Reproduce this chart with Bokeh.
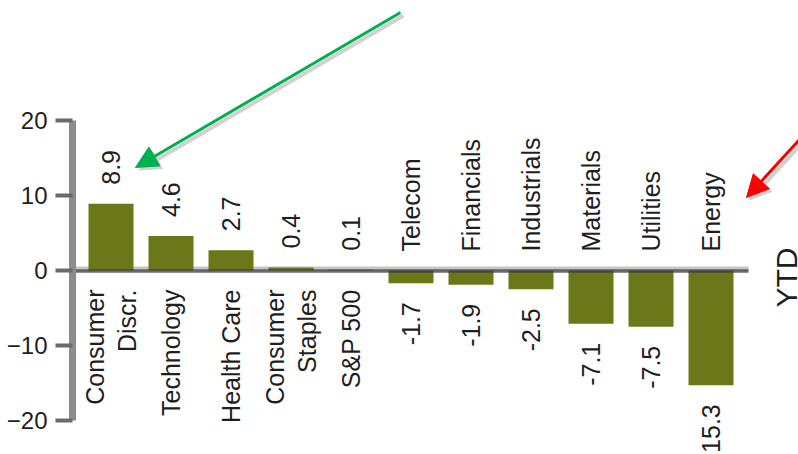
import math
import pandas as pd
from bokeh.plotting import figure
from bokeh.models import Range1d, FixedTicker, ColumnDataSource, Arrow, NormalHead, Label
from bokeh.core.properties import value
from bokeh.embed import file_html
from bokeh.resources import INLINE

# ---------------- data ----------------
categories = ["Consumer\nDiscr.", "Technology", "Health Care", "Consumer\nStaples", "S&P 500",
              "Telecom", "Financials", "Industrials", "Materials", "Utilities", "Energy"]
values = [8.9, 4.6, 2.7, 0.4, 0.1, -1.7, -1.9, -2.5, -7.1, -7.5, -15.3]
value_labels = ["8.9", "4.6", "2.7", "0.4", "0.1", "-1.7", "-1.9", "-2.5", "-7.1", "-7.5", "-15.3"]
y_ticks = [-20, -10, 0, 10, 20]
side_label = "YTD"

# ---------------- layout ----------------
W, H = 798, 454
LEFT = 72
PX_PER_UNIT = 7.5
CAT_PX = 60
FIRST_CENTER_PX = 110.5
ZERO_PX = 270

y_end = ZERO_PX / PX_PER_UNIT
y_start = y_end - H / PX_PER_UNIT
x_start = -(FIRST_CENTER_PX - LEFT) / CAT_PX
x_end = x_start + (W - LEFT) / CAT_PX


def px2x(px):
    return x_start + (px - LEFT) / CAT_PX


def px2y(py):
    return y_end - py / PX_PER_UNIT


BAR = "#6b7819"
TXT = "#1e1e1e"
FONT = "Liberation Sans"
FS = "25px"

p = figure(width=W, height=H, x_range=Range1d(x_start, x_end), y_range=Range1d(y_start, y_end),
           output_backend="svg", toolbar_location=None, x_axis_location=None,
           min_border_left=LEFT, min_border_right=0, min_border_top=0, min_border_bottom=0)
p.outline_line_color = None
p.xgrid.visible = False
p.ygrid.visible = False
p.background_fill_color = "white"
p.border_fill_color = "white"

ax = p.yaxis[0]
ax.ticker = FixedTicker(ticks=y_ticks)
ax.bounds = (min(y_ticks), max(y_ticks))
ax.axis_line_width = 7
ax.axis_line_color = "#8c8c8c"
ax.major_tick_out = 17
ax.major_tick_in = 0
ax.major_tick_line_width = 4
ax.major_tick_line_color = "#6a6a6a"
ax.minor_tick_line_color = None
ax.major_label_standoff = 8
ax.major_label_text_font = FONT
ax.major_label_text_font_size = "24px"
ax.major_label_text_color = TXT

df = pd.DataFrame({"cat": categories, "val": values, "lab": value_labels})
df["x"] = range(len(df))
gap = 19 / PX_PER_UNIT
df["lab_y"] = [v + gap if v > 0 else v - gap for v in df["val"]]
df["cat_y"] = [-gap if v > 0 else gap for v in df["val"]]

# zero line (light upper band under the bars)
zl_end = len(categories) - 1 + 0.625
p.segment(x0=x_start, y0=2 / PX_PER_UNIT, x1=zl_end, y1=2 / PX_PER_UNIT, line_width=4, line_color="#c6c6c6")

p.vbar(x="x", top="val", bottom=0, width=0.75, source=ColumnDataSource(df), fill_color=BAR, line_color=None)

# zero line (dark lower band over the bars)
p.segment(x0=x_start, y0=-0.6 / PX_PER_UNIT, x1=zl_end, y1=-0.6 / PX_PER_UNIT, line_width=3.5,
          line_color="#3a3a3a", line_alpha=0.75)

pos = ColumnDataSource(df[df["val"] > 0])
neg = ColumnDataSource(df[df["val"] <= 0])
common = dict(angle=math.pi / 2, text_baseline="middle", text_font=value(FONT),
              text_font_size=value(FS), text_color=TXT, text_line_height=1.15)

p.text(x="x", y="lab_y", text="lab", text_align="left", source=pos, **common)
p.text(x="x", y="lab_y", text="lab", text_align="right", source=neg, **common)
p.text(x="x", y="cat_y", text="cat", text_align="right", source=pos, **common)
p.text(x="x", y="cat_y", text="cat", text_align="left", source=neg, **common)

# side label
p.add_layout(Label(x=px2x(786), y=px2y(277), text=side_label, angle=math.pi / 2,
                   text_align="center", text_baseline="middle", text_font=FONT,
                   text_font_size="30px", text_color=TXT))


def add_arrow(x0, y0, x1, y1, color):
    # soft shadow
    sh = 3
    p.add_layout(Arrow(end=NormalHead(size=22, fill_color="#9a9a9a", fill_alpha=0.45, line_color=None),
                       x_start=px2x(x0 + sh), y_start=px2y(y0 + sh), x_end=px2x(x1 + sh), y_end=px2y(y1 + sh),
                       line_color="#9a9a9a", line_alpha=0.45, line_width=4))
    p.add_layout(Arrow(end=NormalHead(size=22, fill_color=color, line_color=color, line_width=1),
                       x_start=px2x(x0), y_start=px2y(y0), x_end=px2x(x1), y_end=px2y(y1),
                       line_color=color, line_width=3))


add_arrow(400, 12, 135, 167, "#00b050")
add_arrow(812, 125, 746, 197, "#ff0000")

open("out.html", "w").write(file_html(p, INLINE))
